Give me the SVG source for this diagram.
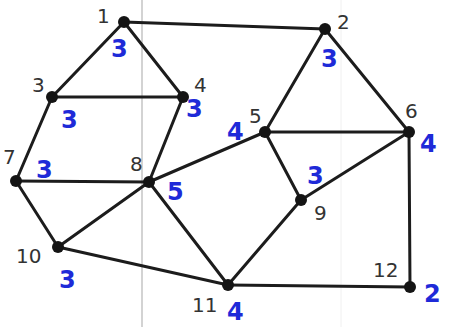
<svg xmlns="http://www.w3.org/2000/svg" width="449" height="327" viewBox="0 0 449 327">
<style>
.e{stroke:#1c1c1c;stroke-width:3;stroke-linecap:round}
.n{fill:#141414}
.l{font-family:"DejaVu Sans","Liberation Sans",sans-serif;font-size:20px;fill:#333333}
.d{font-family:"DejaVu Sans","Liberation Sans",sans-serif;font-size:24px;font-weight:bold;fill:#1e2ad8}
</style>
<rect width="449" height="327" fill="#ffffff"/>
<line x1="142" y1="0" x2="142" y2="327" stroke="#c4c4c4" stroke-width="1.5"/>
<line x1="341" y1="0" x2="341" y2="327" stroke="#f0f0f0" stroke-width="1"/>
<g id="edges">
<line class="e" x1="124" y1="22" x2="325" y2="29"/>
<line class="e" x1="124" y1="22" x2="52" y2="97"/>
<line class="e" x1="124" y1="22" x2="183" y2="97"/>
<line class="e" x1="52" y1="97" x2="183" y2="97"/>
<line class="e" x1="52" y1="97" x2="16" y2="181"/>
<line class="e" x1="183" y1="97" x2="149" y2="182"/>
<line class="e" x1="325" y1="29" x2="265" y2="132"/>
<line class="e" x1="325" y1="29" x2="409" y2="132"/>
<line class="e" x1="265" y1="132" x2="409" y2="132"/>
<line class="e" x1="265" y1="132" x2="149" y2="182"/>
<line class="e" x1="265" y1="132" x2="301" y2="200"/>
<line class="e" x1="409" y1="132" x2="301" y2="200"/>
<line class="e" x1="409" y1="132" x2="410" y2="287"/>
<line class="e" x1="16" y1="181" x2="149" y2="182"/>
<line class="e" x1="16" y1="181" x2="58" y2="247"/>
<line class="e" x1="149" y1="182" x2="58" y2="247"/>
<line class="e" x1="149" y1="182" x2="228" y2="285"/>
<line class="e" x1="301" y1="200" x2="228" y2="285"/>
<line class="e" x1="58" y1="247" x2="228" y2="285"/>
<line class="e" x1="228" y1="285" x2="410" y2="287"/>
</g>
<g id="n1"><circle class="n" cx="124" cy="22" r="6"/><text class="l" x="97" y="23">1</text><text class="d" x="111" y="57">3</text></g>
<g id="n2"><circle class="n" cx="325" cy="29" r="6"/><text class="l" x="337" y="29">2</text><text class="d" x="321" y="67">3</text></g>
<g id="n3"><circle class="n" cx="52" cy="97" r="6"/><text class="l" x="32" y="92">3</text><text class="d" x="61" y="128">3</text></g>
<g id="n4"><circle class="n" cx="183" cy="97" r="6"/><text class="l" x="194" y="92">4</text><text class="d" x="186" y="117">3</text></g>
<g id="n5"><circle class="n" cx="265" cy="132" r="6"/><text class="l" x="249" y="123">5</text><text class="d" x="227" y="140">4</text></g>
<g id="n6"><circle class="n" cx="409" cy="132" r="6"/><text class="l" x="405" y="118">6</text><text class="d" x="420" y="152">4</text></g>
<g id="n7"><circle class="n" cx="16" cy="181" r="6"/><text class="l" x="3" y="164">7</text><text class="d" x="36" y="178">3</text></g>
<g id="n8"><circle class="n" cx="149" cy="182" r="6"/><text class="l" x="130" y="171">8</text><text class="d" x="167" y="200">5</text></g>
<g id="n9"><circle class="n" cx="301" cy="200" r="6"/><text class="l" x="314" y="220">9</text><text class="d" x="307" y="184">3</text></g>
<g id="n10"><circle class="n" cx="58" cy="247" r="6"/><text class="l" x="16" y="263">10</text><text class="d" x="59" y="288">3</text></g>
<g id="n11"><circle class="n" cx="228" cy="285" r="6"/><text class="l" x="192" y="312">11</text><text class="d" x="227" y="320">4</text></g>
<g id="n12"><circle class="n" cx="410" cy="287" r="6"/><text class="l" x="373" y="277">12</text><text class="d" x="424" y="302">2</text></g>
</svg>
